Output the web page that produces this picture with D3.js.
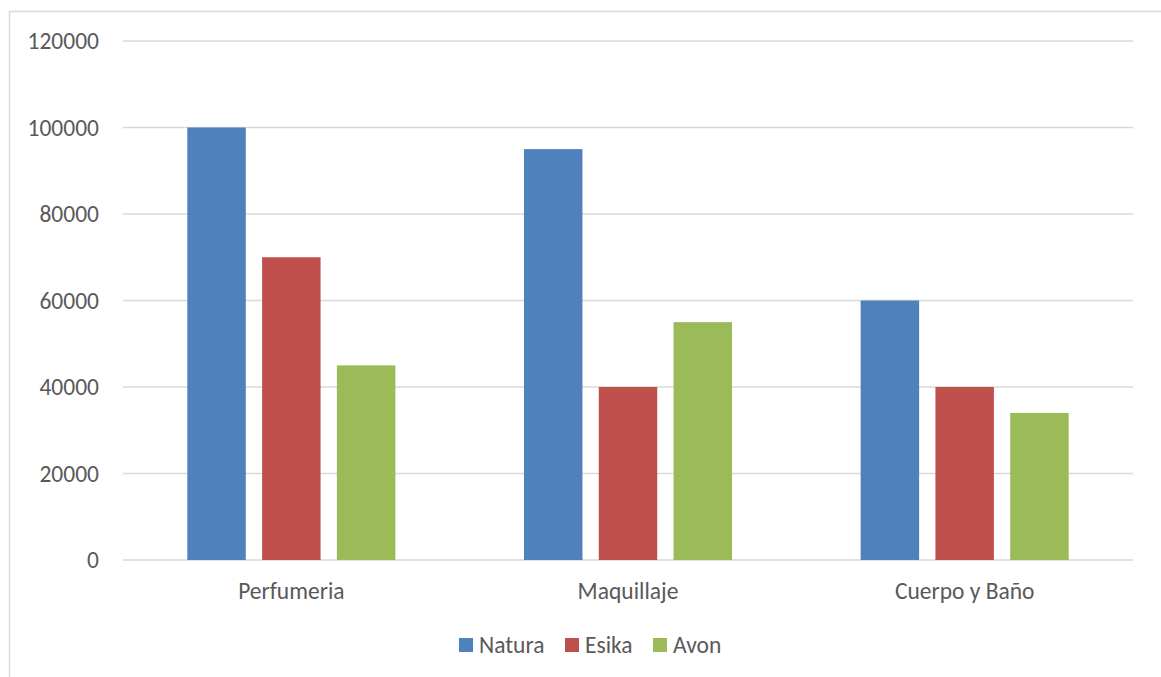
<!DOCTYPE html>
<html>
<head>
<meta charset="utf-8">
<script src="https://cdn.jsdelivr.net/npm/d3@7"></script>
<style>
  html, body { margin: 0; padding: 0; background: #fff; }
  svg { display: block; }
  text { font-family: Carlito, Calibri, "Open Sans", sans-serif; fill: #595959; }
</style>
</head>
<body>
<svg id="chart" width="1161" height="677"></svg>
<script>
const categories = ["Perfumeria", "Maquillaje", "Cuerpo y Baño"];
const seriesNames = ["Natura", "Esika", "Avon"];
const natura = [100000, 95000, 60000];
const esika = [70000, 40000, 40000];
const avon = [45000, 55000, 34000];
const yTicks = [0, 20000, 40000, 60000, 80000, 100000, 120000];
const colors = ["#4F81BD", "#C0504D", "#9BBB59"];

const seriesValues = [natura, esika, avon];
const rows = categories.map((c, i) => ({
  category: c,
  values: seriesNames.map((s, j) => ({ series: s, value: seriesValues[j][i], color: colors[j] }))
}));

const FS = 23.5;
const svg = d3.select("#chart");
const W = 1161, H = 677;
const plot = { left: 123, right: 1133, top: 41, bottom: 560 };

// chart border
svg.append("rect")
  .attr("x", 9.5).attr("y", 11.5)
  .attr("width", W + 10).attr("height", H + 10)
  .attr("fill", "none").attr("stroke", "#D9D9D9").attr("stroke-width", 1.5);

const y = d3.scaleLinear().domain([0, 120000]).range([plot.bottom, plot.top]);
const x0 = d3.scaleBand().domain(categories).range([plot.left, plot.right])
  .paddingInner(0.382).paddingOuter(0.191);
const x1 = d3.scaleBand().domain(seriesNames).range([0, x0.bandwidth()]).paddingInner(0.218);

// gridlines
svg.append("g").selectAll("line").data(yTicks).join("line")
  .attr("x1", plot.left).attr("x2", plot.right)
  .attr("y1", d => y(d)).attr("y2", d => y(d))
  .attr("stroke", "#D9D9D9").attr("stroke-width", 1.5);

// y axis labels
const yAxis = d3.axisLeft(y).tickValues(yTicks).tickSize(0).tickPadding(0).tickFormat(d3.format("d"));
const yg = svg.append("g").attr("transform", `translate(${plot.left - 24},0)`).call(yAxis);
yg.select(".domain").remove();
yg.selectAll("text").attr("font-size", FS).style("fill", "#595959")
  .style("font-family", "Carlito, Calibri, 'Open Sans', sans-serif");

// bars
const groups = svg.append("g").selectAll("g").data(rows).join("g")
  .attr("transform", d => `translate(${x0(d.category)},0)`);
groups.selectAll("rect").data(d => d.values).join("rect")
  .attr("x", d => x1(d.series))
  .attr("width", x1.bandwidth())
  .attr("y", d => y(d.value))
  .attr("height", d => y(0) - y(d.value))
  .attr("fill", d => d.color);

// x axis labels
const xAxis = d3.axisBottom(x0).tickSize(0).tickPadding(0);
const xg = svg.append("g").attr("transform", `translate(0,${plot.bottom + 21})`).call(xAxis);
xg.select(".domain").remove();
xg.selectAll("text").attr("font-size", FS).attr("dy", "0.75em").style("fill", "#595959")
  .style("font-family", "Carlito, Calibri, 'Open Sans', sans-serif");

// legend
const legendX = [459, 565, 653];
const legend = svg.append("g").selectAll("g").data(seriesNames).join("g")
  .attr("transform", (d, i) => `translate(${legendX[i]},638)`);
legend.append("rect").attr("width", 14).attr("height", 14).attr("fill", (d, i) => colors[i]);
legend.append("text").attr("x", 20).attr("y", 14.5).attr("font-size", FS).text(d => d);
</script>
</body>
</html>
